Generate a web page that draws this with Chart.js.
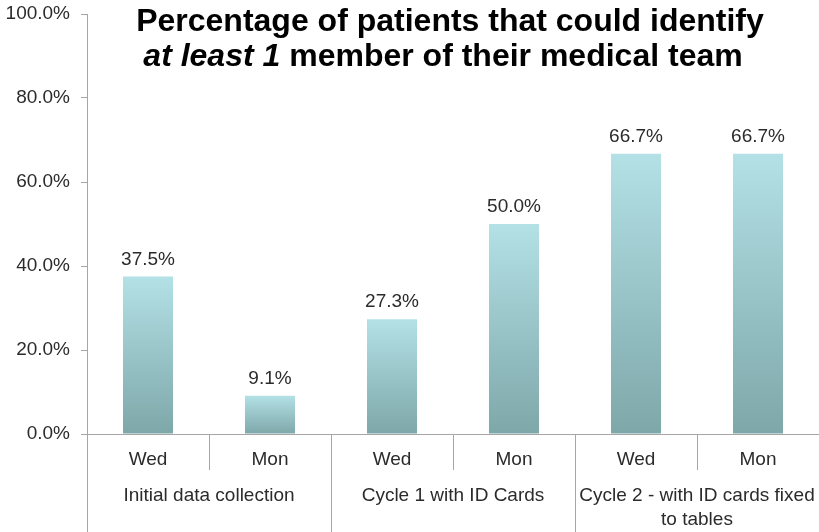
<!DOCTYPE html>
<html>
<head>
<meta charset="utf-8">
<script src="https://cdn.jsdelivr.net/npm/chart.js@4/dist/chart.umd.min.js"></script>
<style>
  html, body { margin: 0; padding: 0; background: #fff; }
  #wrap { width: 819px; height: 532px; position: relative; }
</style>
</head>
<body>
<div id="wrap"><canvas id="c" width="819" height="532"></canvas></div>
<script>
const dayLabels = ['Wed', 'Mon', 'Wed', 'Mon', 'Wed', 'Mon'];
const groupLabels = ['Initial data collection', 'Cycle 1 with ID Cards', ['Cycle 2 - with ID cards fixed', 'to tables']];
const percentValues = [37.5, 9.1, 27.3, 50.0, 66.7, 66.7];
const yTickValues = [0, 20, 40, 60, 80, 100];
const titleLine1 = 'Percentage of patients that could identify';
const titleLine2Italic = 'at least 1';
const titleLine2Rest = ' member of their medical team';

const FONT = '"Liberation Sans", Arial, Helvetica, sans-serif';
const AXIS_COLOR = '#a6a6a6';
const TEXT_COLOR = '#2b2b2b';

function barGradient(context) {
  const chart = context.chart;
  const yScale = chart.scales.y;
  if (!yScale || context.raw === undefined) return '#9cc9cd';
  const top = yScale.getPixelForValue(context.raw);
  const base = yScale.getPixelForValue(0);
  if (!isFinite(top) || !isFinite(base) || top === base) return '#9cc9cd';
  const g = chart.ctx.createLinearGradient(0, top, 0, base);
  g.addColorStop(0, '#b3e1e6');
  g.addColorStop(1, '#7ea7a9');
  return g;
}

const overlayPlugin = {
  id: 'overlay',
  afterDatasetsDraw(chart) {
    const ctx = chart.ctx;
    const meta = chart.getDatasetMeta(0);
    ctx.save();
    ctx.fillStyle = TEXT_COLOR;
    ctx.font = '19px ' + FONT;
    ctx.textAlign = 'center';
    ctx.textBaseline = 'alphabetic';
    meta.data.forEach((el, i) => {
      ctx.fillText(percentValues[i].toFixed(1) + '%', el.x, el.y - 12);
    });
    ctx.restore();
  },
  afterDraw(chart) {
    const ctx = chart.ctx;
    ctx.save();
    ctx.fillStyle = '#000';
    ctx.textBaseline = 'alphabetic';
    ctx.textAlign = 'left';
    const fs = 32;
    ctx.font = 'bold ' + fs + 'px ' + FONT;
    const w1 = ctx.measureText(titleLine1).width;
    ctx.fillText(titleLine1, 450 - w1 / 2, 31);
    ctx.font = 'italic bold ' + fs + 'px ' + FONT;
    const wa = ctx.measureText(titleLine2Italic).width;
    ctx.font = 'bold ' + fs + 'px ' + FONT;
    const wb = ctx.measureText(titleLine2Rest).width;
    const start = 443 - (wa + wb) / 2;
    ctx.font = 'italic bold ' + fs + 'px ' + FONT;
    ctx.fillText(titleLine2Italic, start, 66);
    ctx.font = 'bold ' + fs + 'px ' + FONT;
    ctx.fillText(titleLine2Rest, start + wa, 66);
    ctx.restore();
  }
};

new Chart(document.getElementById('c'), {
  type: 'bar',
  data: {
    labels: dayLabels,
    datasets: [{
      data: percentValues,
      backgroundColor: barGradient,
      borderWidth: 0,
      barPercentage: 0.41,
      categoryPercentage: 1.0,
      xAxisID: 'x',
      yAxisID: 'y'
    }]
  },
  options: {
    responsive: false,
    animation: false,
    events: [],
    layout: { padding: { top: 14, right: 0, bottom: 0, left: 0 } },
    plugins: { legend: { display: false }, tooltip: { enabled: false }, title: { display: false } },
    scales: {
      y: {
        position: 'left',
        min: 0,
        max: 100,
        afterBuildTicks(scale) { scale.ticks = yTickValues.map(v => ({ value: v })); },
        afterFit(scale) { scale.width = 87; scale.paddingTop = 0; scale.paddingBottom = 0; },
        ticks: {
          color: TEXT_COLOR,
          font: { family: FONT, size: 19 },
          padding: 11,
          callback: (v) => Number(v).toFixed(1) + '%'
        },
        grid: { drawOnChartArea: false, drawTicks: true, tickLength: 6, color: AXIS_COLOR, lineWidth: 1 },
        border: { display: true, color: AXIS_COLOR, width: 1 }
      },
      x: {
        type: 'category',
        position: 'bottom',
        offset: true,
        afterFit(scale) { scale.height = 36; },
        ticks: {
          color: TEXT_COLOR,
          font: { family: FONT, size: 19 },
          padding: -22,
          maxRotation: 0,
          autoSkip: false
        },
        grid: { offset: true, drawOnChartArea: false, drawTicks: true, tickLength: 36, color: AXIS_COLOR, lineWidth: 1 },
        border: { display: true, color: AXIS_COLOR, width: 1 }
      },
      x2: {
        type: 'category',
        position: 'bottom',
        labels: groupLabels,
        offset: true,
        afterFit(scale) { scale.height = 62; },
        ticks: {
          color: TEXT_COLOR,
          font: { family: FONT, size: 19, lineHeight: 1.25 },
          padding: -48,
          maxRotation: 0,
          autoSkip: false
        },
        grid: { offset: true, drawOnChartArea: false, drawTicks: true, tickLength: 62, color: AXIS_COLOR, lineWidth: 1 },
        border: { display: false }
      }
    }
  },
  plugins: [overlayPlugin]
});
</script>
</body>
</html>
